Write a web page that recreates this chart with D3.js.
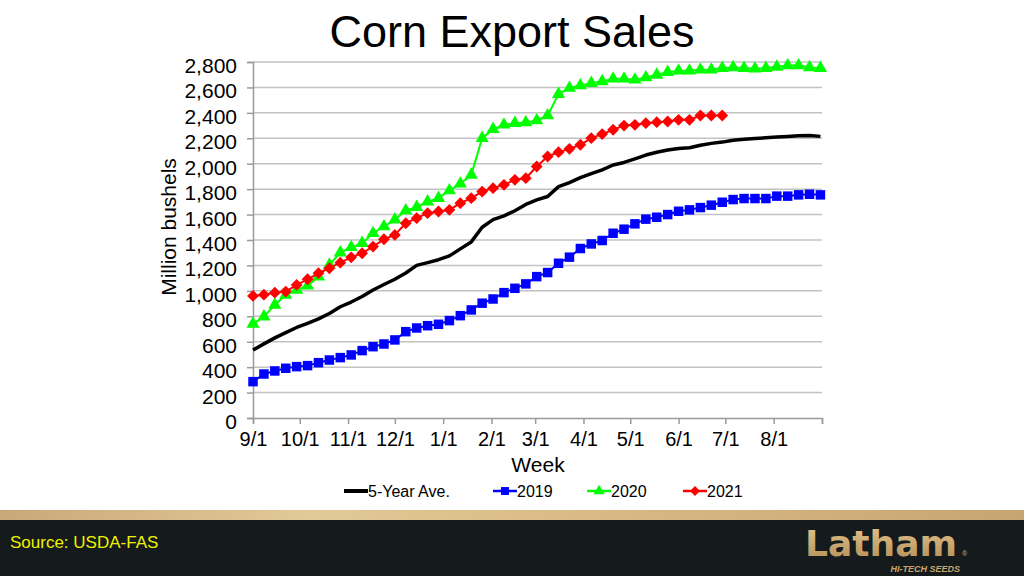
<!DOCTYPE html>
<html>
<head>
<meta charset="utf-8">
<script src="https://cdn.jsdelivr.net/npm/d3@7"></script>
<style>
  html, body { margin: 0; padding: 0; background: #ffffff; }
  svg { display: block; font-family: "Liberation Sans", Arial, sans-serif; }
</style>
</head>
<body>
<svg id="chart" width="1024" height="576"></svg>
<script>
// ---------- DATA ----------
const title = "Corn Export Sales";
const yTitle = "Million bushels";
const xTitle = "Week";
const monthLabels = ["9/1","10/1","11/1","12/1","1/1","2/1","3/1","4/1","5/1","6/1","7/1","8/1"];
const yTicks = [0,200,400,600,800,1000,1200,1400,1600,1800,2000,2200,2400,2600,2800];
const seriesNames = ["5-Year Ave.", "2019", "2020", "2021"];

// weekly cumulative sales, week 0 = 9/1
const fiveYearAve = [535,583,630,672,712,745,780,822,875,912,956,1007,1050,1091,1140,1200,1222,1245,1275,1330,1385,1500,1560,1590,1630,1680,1715,1742,1820,1852,1890,1922,1952,1990,2010,2038,2068,2090,2108,2120,2125,2145,2160,2170,2185,2192,2198,2204,2210,2215,2220,2222,2215];
const sales2019 = [286,346,370,391,404,412,435,456,475,496,530,561,582,614,679,708,726,737,766,805,850,903,936,986,1020,1055,1112,1144,1217,1265,1333,1369,1396,1453,1485,1527,1564,1579,1600,1626,1637,1655,1674,1697,1718,1726,1726,1726,1745,1745,1755,1760,1755];
const sales2020 = [740,797,889,968,1007,1040,1112,1204,1301,1343,1375,1453,1506,1560,1632,1658,1702,1729,1789,1842,1912,2201,2272,2306,2319,2324,2340,2379,2547,2595,2615,2634,2647,2668,2668,2660,2678,2699,2720,2731,2731,2739,2739,2752,2757,2752,2747,2752,2762,2772,2772,2757,2752];
const sales2021 = [960,970,986,994,1047,1091,1139,1178,1222,1264,1296,1348,1406,1440,1532,1572,1611,1624,1637,1690,1729,1781,1808,1834,1873,1886,1978,2057,2091,2117,2149,2201,2233,2267,2300,2306,2319,2327,2332,2345,2345,2379,2379,2379];

// ---------- LAYOUT ----------
const svg = d3.select("#chart");
const W = 1024, H = 576;
const start = new Date(Date.UTC(2020, 8, 1));
const end = new Date(Date.UTC(2021, 8, 1));
const x = d3.scaleUtc().domain([start, end]).range([253, 822]);
const y = d3.scaleLinear().domain([0, 2800]).range([418, 62]);
const dateOf = i => d3.utcDay.offset(start, 7 * i);

// title
svg.append("text").attr("x", 512).attr("y", 47).attr("text-anchor", "middle")
  .attr("font-size", 45).attr("fill", "#000").text(title);

// gridlines
svg.append("g").selectAll("line").data(yTicks.filter(d => d > 0)).join("line")
  .attr("x1", 253).attr("x2", 822)
  .attr("y1", d => y(d)).attr("y2", d => y(d))
  .attr("stroke", "#c2c2c2").attr("stroke-width", 1.5);

// y axis
const yAxis = svg.append("g").attr("transform", "translate(253,0)")
  .call(d3.axisLeft(y).tickValues(yTicks).tickFormat(d3.format(",")).tickSize(6).tickPadding(10));
yAxis.select(".domain").attr("stroke", "#9a9a9a").attr("stroke-width", 1.5);
yAxis.selectAll(".tick line").attr("stroke", "#9a9a9a").attr("stroke-width", 1.5);
yAxis.selectAll(".tick text").attr("font-size", 21).attr("fill", "#000")
  .attr("font-family", "Liberation Sans, Arial, sans-serif").attr("dy", "0.5em");

// x axis
const monthTicks = d3.utcMonth.range(start, d3.utcDay.offset(end, 1));
const xAxis = svg.append("g").attr("transform", "translate(0,418)")
  .call(d3.axisBottom(x).tickValues(monthTicks)
    .tickFormat((d, i) => monthLabels[i] || "").tickSize(6).tickPadding(8));
xAxis.select(".domain").attr("stroke", "#9a9a9a").attr("stroke-width", 1.5);
xAxis.selectAll(".tick line").attr("stroke", "#9a9a9a").attr("stroke-width", 1.5);
xAxis.selectAll(".tick text").attr("font-size", 20).attr("fill", "#000")
  .attr("font-family", "Liberation Sans, Arial, sans-serif");

// axis titles
svg.append("text").attr("transform", "translate(176,227) rotate(-90)")
  .attr("text-anchor", "middle").attr("font-size", 21).attr("fill", "#000").text(yTitle);
svg.append("text").attr("x", 538).attr("y", 472).attr("text-anchor", "middle")
  .attr("font-size", 21).attr("fill", "#000").text(xTitle);

// ---------- SERIES ----------
const line = d3.line().x((d, i) => x(dateOf(i))).y(d => y(d));
const diamond = { draw(ctx, size) { const r = Math.sqrt(size / 2); ctx.moveTo(0, -r); ctx.lineTo(r, 0); ctx.lineTo(0, r); ctx.lineTo(-r, 0); ctx.closePath(); } };
const series = [
  { name: seriesNames[0], data: fiveYearAve, color: "#000000", width: 3.5, symbol: null },
  { name: seriesNames[1], data: sales2019, color: "#0000ff", width: 2, symbol: d3.symbolSquare, size: 90 },
  { name: seriesNames[2], data: sales2020, color: "#00ff00", width: 2, symbol: d3.symbolTriangle, size: 75 },
  { name: seriesNames[3], data: sales2021, color: "#ff0000", width: 2, symbol: diamond, size: 70 }
];
const plot = svg.append("g");
series.forEach(s => {
  plot.append("path").datum(s.data).attr("d", line)
    .attr("fill", "none").attr("stroke", s.color).attr("stroke-width", s.width)
    .attr("stroke-linejoin", "round");
  if (s.symbol) {
    plot.append("g").selectAll("path").data(s.data).join("path")
      .attr("transform", (d, i) => `translate(${x(dateOf(i))},${y(d)})`)
      .attr("d", d3.symbol(s.symbol, s.size)).attr("fill", s.color);
  }
});

// ---------- LEGEND ----------
const legendPos = [344, 493, 587, 683];
const lg = svg.append("g").attr("transform", "translate(0,491)");
series.forEach((s, k) => {
  const g = lg.append("g").attr("transform", `translate(${legendPos[k]},0)`);
  g.append("line").attr("x1", 0).attr("x2", 24).attr("stroke", s.color).attr("stroke-width", s.width + 0.5);
  if (s.symbol) g.append("path").attr("transform", "translate(12,0)")
    .attr("d", d3.symbol(s.symbol, s.size * 0.7)).attr("fill", s.color);
  g.append("text").attr("x", 24).attr("dy", "0.36em").attr("font-size", 16).attr("fill", "#000").text(s.name);
});

// ---------- FOOTER ----------
const defs = svg.append("defs");
const grad = defs.append("linearGradient").attr("id", "wood").attr("x1", 0).attr("x2", 1);
[["0", "#c9a877"], ["0.3", "#e2c996"], ["0.6", "#d8b985"], ["1", "#c7a572"]].forEach(([o, c]) =>
  grad.append("stop").attr("offset", o).attr("stop-color", c));
svg.append("rect").attr("x", 0).attr("y", 510).attr("width", W).attr("height", 11).attr("fill", "url(#wood)");
svg.append("rect").attr("x", 0).attr("y", 520).attr("width", W).attr("height", 56).attr("fill", "#151a1d");
svg.append("text").attr("x", 10).attr("y", 548).attr("font-size", 17).attr("fill", "#eef200").text("Source: USDA-FAS");

const logoGrad = defs.append("linearGradient").attr("id", "logo").attr("x1", 0).attr("x2", 0).attr("y1", 0).attr("y2", 1);
[["0", "#e3c48e"], ["1", "#b38d55"]].forEach(([o, c]) => logoGrad.append("stop").attr("offset", o).attr("stop-color", c));
svg.append("text").attr("x", 805).attr("y", 556).attr("font-size", 36).attr("font-weight", "bold")
  .attr("font-family", "DejaVu Sans, sans-serif").attr("textLength", 152).attr("lengthAdjust", "spacingAndGlyphs")
  .attr("fill", "url(#logo)").text("Latham");
svg.append("text").attr("x", 962).attr("y", 556).attr("font-size", 7).attr("fill", "#d2b27c").text("®");
svg.append("text").attr("x", 960).attr("y", 572).attr("text-anchor", "end").attr("font-size", 9)
  .attr("font-weight", "bold").attr("font-style", "italic").attr("fill", "#c9a66b").text("HI-TECH SEEDS");
</script>
</body>
</html>
